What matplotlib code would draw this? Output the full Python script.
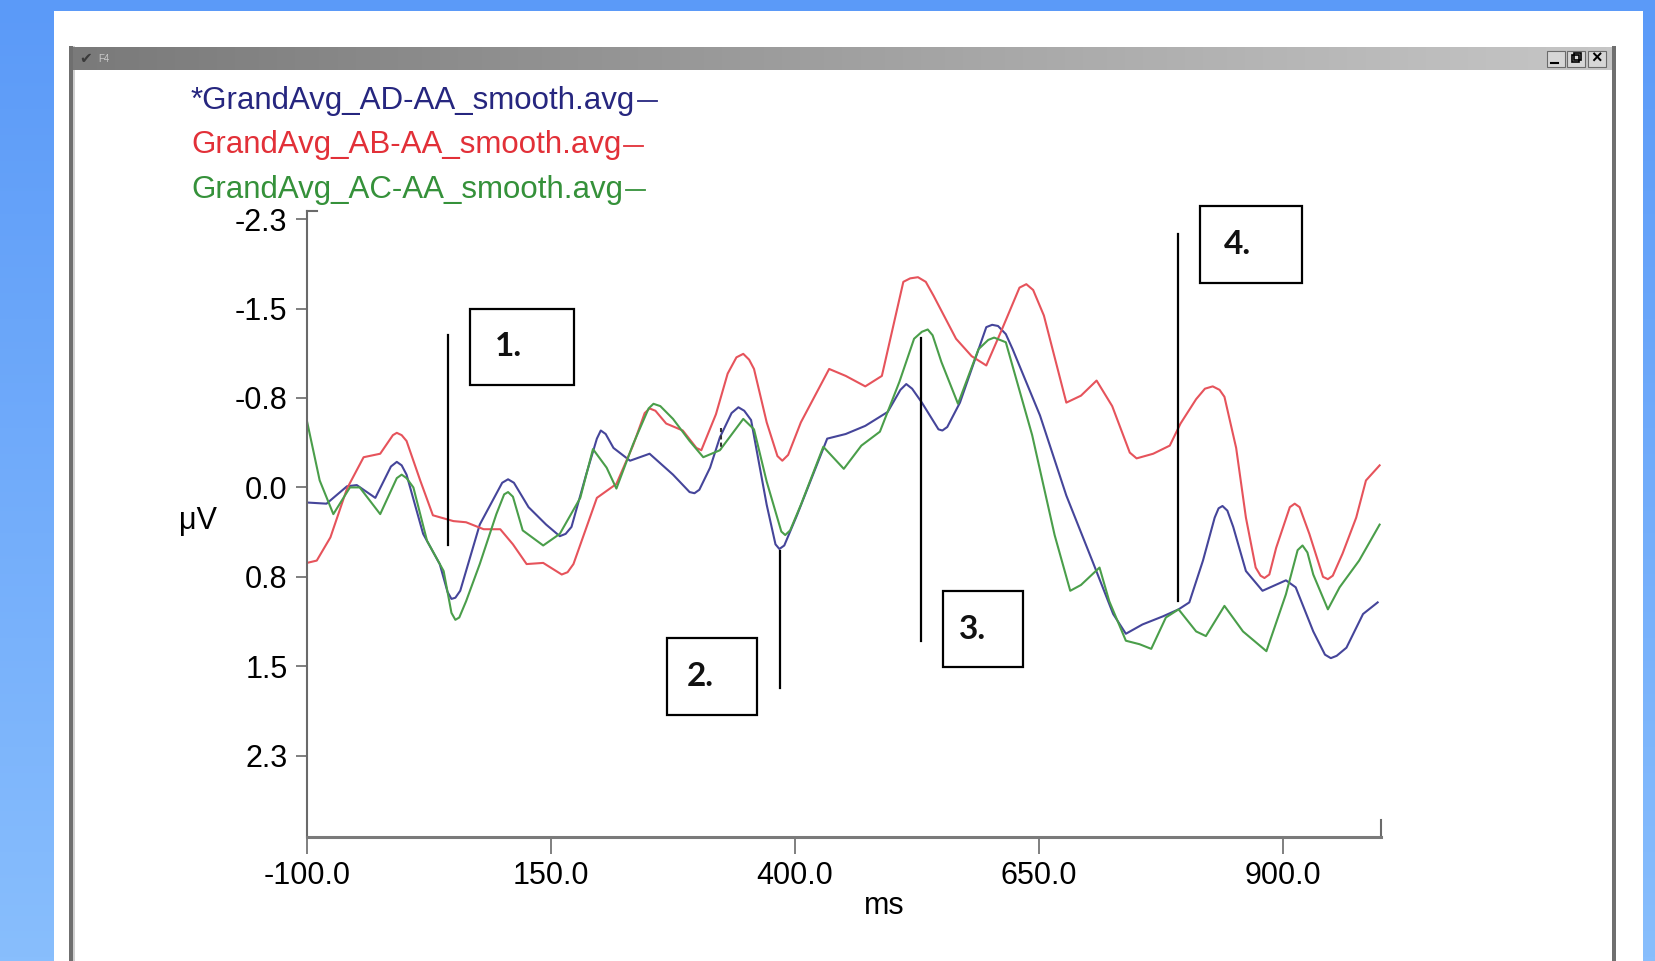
import numpy as np
import matplotlib
matplotlib.use("Agg")
import matplotlib.pyplot as plt
from matplotlib.patches import Rectangle

plt.rcParams['font.family'] = ['Liberation Sans', 'DejaVu Sans']

# --- data (ms, microvolts; negative is drawn upwards) ---
blue_ms = [-100, -80, -59, -49, -30, -14, -8, -3, 2, 19, 36, 44, 48, 52, 57, 77, 100, 106, 112,
           127, 145, 159, 165, 171, 186, 197, 201, 206, 214, 231, 251, 275, 292, 297, 302, 313,
           323, 335, 342, 348, 355, 371, 380, 384, 389, 402, 433, 452, 472, 495, 508, 514, 520,
           530, 547, 551, 556, 569, 596, 602, 608, 616, 623, 651, 678, 705, 726, 739, 756, 777,
           793, 804, 818, 830, 834, 838, 843, 849, 862, 879, 903, 913, 931, 943, 949, 955, 965,
           982, 997]
blue_uv = [0.13, 0.14, -0.01, -0.02, 0.09, -0.18, -0.22, -0.19, -0.11, 0.40, 0.66, 0.90, 0.96,
           0.95, 0.89, 0.32, -0.04, -0.07, -0.04, 0.17, 0.32, 0.42, 0.40, 0.34, -0.11, -0.42,
           -0.49, -0.46, -0.34, -0.23, -0.29, -0.11, 0.04, 0.05, 0.02, -0.17, -0.43, -0.64,
           -0.69, -0.66, -0.58, 0.15, 0.49, 0.53, 0.50, 0.24, -0.42, -0.46, -0.53, -0.65, -0.84,
           -0.89, -0.85, -0.73, -0.50, -0.49, -0.52, -0.73, -1.38, -1.40, -1.39, -1.32, -1.19,
           -0.62, 0.07, 0.64, 1.09, 1.26, 1.18, 1.11, 1.05, 0.99, 0.63, 0.26, 0.18, 0.16, 0.20,
           0.34, 0.72, 0.89, 0.80, 0.86, 1.24, 1.44, 1.47, 1.45, 1.38, 1.09, 0.99]

red_ms = [-100, -90, -76, -59, -42, -25, -12, -8, -3, 2, 16, 29, 50, 63, 81, 98, 111, 125, 142,
          161, 167, 173, 197, 217, 234, 246, 251, 257, 268, 285, 299, 304, 319, 331, 340, 347,
          353, 358, 371, 382, 387, 393, 406, 435, 452, 472, 489, 511, 518, 526, 534, 542, 565,
          581, 596, 612, 630, 637, 644, 655, 678, 693, 709, 725, 743, 750, 767, 784, 795, 811,
          820, 828, 835, 840, 852, 862, 872, 877, 881, 886, 893, 907, 912, 917, 927, 941, 946,
          951, 961, 975, 985, 999]
red_uv = [0.65, 0.63, 0.43, 0.01, -0.26, -0.29, -0.45, -0.47, -0.45, -0.40, -0.06, 0.24, 0.29,
          0.30, 0.36, 0.36, 0.49, 0.66, 0.65, 0.75, 0.73, 0.66, 0.09, -0.03, -0.36, -0.64, -0.68,
          -0.66, -0.55, -0.49, -0.34, -0.32, -0.63, -0.98, -1.12, -1.15, -1.10, -1.02, -0.56,
          -0.27, -0.23, -0.28, -0.56, -1.02, -0.96, -0.87, -0.96, -1.77, -1.80, -1.81, -1.77,
          -1.65, -1.28, -1.13, -1.05, -1.36, -1.72, -1.75, -1.70, -1.48, -0.73, -0.79, -0.92,
          -0.70, -0.30, -0.25, -0.29, -0.36, -0.55, -0.76, -0.85, -0.87, -0.84, -0.78, -0.34,
          0.26, 0.69, 0.76, 0.78, 0.75, 0.52, 0.17, 0.14, 0.17, 0.40, 0.77, 0.79, 0.76, 0.57,
          0.26, -0.06, -0.19]

green_ms = [-100, -87, -73, -56, -46, -25, -8, -3, 2, 9, 23, 40, 48, 52, 56, 63, 77, 94, 102, 106,
            111, 121, 142, 159, 180, 193, 207, 217, 234, 250, 255, 262, 275, 292, 306, 323, 347,
            358, 371, 386, 390, 395, 406, 429, 450, 468, 487, 507, 522, 530, 536, 541, 550, 567,
            588, 598, 604, 616, 643, 666, 682, 693, 712, 722, 739, 753, 765, 780, 793, 811, 821,
            840, 859, 883, 903, 915, 920, 925, 931, 946, 958, 978, 999]
green_uv = [-0.57, -0.06, 0.23, 0.00, 0.00, 0.23, -0.08, -0.11, -0.08, 0.00, 0.46, 0.72, 1.08,
            1.14, 1.12, 0.98, 0.66, 0.23, 0.06, 0.04, 0.08, 0.37, 0.50, 0.40, 0.09, -0.33, -0.17,
            0.01, -0.37, -0.68, -0.72, -0.70, -0.59, -0.40, -0.26, -0.32, -0.59, -0.50, -0.05,
            0.38, 0.41, 0.37, 0.15, -0.35, -0.16, -0.36, -0.48, -0.91, -1.28, -1.34, -1.36, -1.31,
            -1.08, -0.72, -1.19, -1.27, -1.29, -1.25, -0.45, 0.41, 0.89, 0.84, 0.69, 0.98, 1.32,
            1.35, 1.39, 1.12, 1.05, 1.24, 1.28, 1.02, 1.24, 1.41, 0.92, 0.54, 0.50, 0.56, 0.75,
            1.05, 0.86, 0.63, 0.32]

series_names = ["*GrandAvg_AD-AA_smooth.avg", "GrandAvg_AB-AA_smooth.avg",
                "GrandAvg_AC-AA_smooth.avg"]
line_colors = ["#45459a", "#e6535b", "#4a9e4a"]
text_colors = ["#26267f", "#e23038", "#35913a"]

x_ticks = [-100, 150, 400, 650, 900]
y_ticks = [-2.31, -1.54, -0.77, 0.0, 0.77, 1.54, 2.31]

# markers 1-4: (ms, top, bottom) of the black line, and box (ms0, ms1, uv0, uv1)
marker_lines = [(44, -1.31, 0.50), (385, 0.55, 1.73), (529, -1.29, 1.32), (792, -2.18, 0.98)]
marker_boxes = [(67, 174, -1.54, -0.88), (269, 361, 1.30, 1.96),
                (552, 634, 0.89, 1.55), (815, 919, -2.42, -1.76)]
marker_text = ["1.", "2.", "3.", "4."]

W, H = 1655, 961
fig = plt.figure(figsize=(W / 100, H / 100), dpi=100)

# background, window frame and title bar (pixel coordinates)
bg = fig.add_axes([0, 0, 1, 1])
bg.set_xlim(0, W)
bg.set_ylim(H, 0)
bg.axis('off')
top_c = np.array([0x5b, 0x9a, 0xf8]) / 255
bot_c = np.array([0x88, 0xbe, 0xfd]) / 255
g = np.linspace(0, 1, 256)[:, None, None]
bg.imshow(top_c + (bot_c - top_c) * g, extent=[0, W, H, 0], aspect='auto', zorder=0)
bg.add_patch(Rectangle((54, 10.5), 1643 - 54, H, fc='white', ec='none', zorder=1))
bg.add_patch(Rectangle((69, 46), 4, H, fc='#6f6f6f', ec='none', zorder=2))
bg.add_patch(Rectangle((73, 46), 2, H, fc='#d0d0d0', ec='none', zorder=2))
bg.add_patch(Rectangle((1612, 46), 4, H, fc='#6f6f6f', ec='none', zorder=2))
hg = np.linspace(0, 1, 256)[None, :, None]
bar_l = np.array([0x7a, 0x7a, 0x7a]) / 255
bar_r = np.array([0xc6, 0xc6, 0xc6]) / 255
bg.imshow(bar_l + (bar_r - bar_l) * hg, extent=[73, 1612, 70, 47], aspect='auto', zorder=3)
bg.set_xlim(0, W)
bg.set_ylim(H, 0)
bg.text(79, 59, "\u2714", fontsize=11, color='#3a3a3a', va='center', family='DejaVu Sans', zorder=4)
bg.text(98, 59, "F4", fontsize=7, color='#c8c8c8', va='center', zorder=4)
for bx in [1547, 1567, 1588]:
    bg.add_patch(Rectangle((bx, 51), 18, 16, fc='#d6d6d6', ec='#6a6a6a', lw=0.8, zorder=4))
bg.plot([1551, 1558], [63, 63], color='black', lw=1.5, zorder=5)
bg.add_patch(Rectangle((1572, 55), 7, 7, fc='none', ec='black', lw=1.2, zorder=5))
bg.add_patch(Rectangle((1574, 53), 7, 7, fc='none', ec='black', lw=1.2, zorder=5))
bg.text(1597, 59, "\u00d7", fontsize=13, color='black', ha='center', va='center',
        fontweight='bold', zorder=5)

# legend texts with a short line sample after each name
legend_y = [101, 145.5, 190]
for i, name in enumerate(series_names):
    bg.text(191, legend_y[i], name, color=text_colors[i], fontsize=22.5,
            va='center', ha='left', zorder=4)
fig.canvas.draw()
for i, txt in enumerate([c for c in bg.texts if c.get_text() in series_names]):
    bb = txt.get_window_extent()
    xe = bb.x1 + 3
    bg.plot([xe, xe + 19], [legend_y[i], legend_y[i]], color=text_colors[i], lw=1.3, zorder=4)

# main plot
x0, x1, y0, y1 = 307, 1380.6, 211, 837
ax = fig.add_axes([x0 / W, 1 - y1 / H, (x1 - x0) / W, (y1 - y0) / H])
ax.patch.set_alpha(0)
for xs, ys, c in [(blue_ms, blue_uv, line_colors[0]), (red_ms, red_uv, line_colors[1]),
                  (green_ms, green_uv, line_colors[2])]:
    ax.plot(xs, ys, color=c, lw=1.5, solid_joinstyle='round')
ax.set_xlim(-100, 1000)
ax.set_ylim(3.01, -2.38)

for s in ['top', 'right']:
    ax.spines[s].set_visible(False)
ax.spines['left'].set_color('#6a6a6a')
ax.spines['left'].set_linewidth(1.5)
ax.spines['bottom'].set_color('#7a7a7a')
ax.spines['bottom'].set_linewidth(2.2)
ax.set_xticks(x_ticks)
ax.set_xticklabels(["%.1f" % v for v in x_ticks])
ax.set_yticks(y_ticks)
ax.set_yticklabels(["%.1f" % v for v in y_ticks])
ax.tick_params(axis='y', length=8, width=1.2, color='#6a6a6a', pad=6, labelsize=22)
ax.tick_params(axis='x', length=12, width=1.2, color='#6a6a6a', pad=5, labelsize=22)
# hook at top of y axis and small tick at right end of x axis
ax.plot([-100, -90], [-2.38, -2.38], color='#6a6a6a', lw=1.5, clip_on=False)
ax.plot([1000, 1000], [3.01, 2.86], color='#6a6a6a', lw=1.5, clip_on=False)

fig.text(884.5 / W, 1 - 906 / H, "ms", fontsize=22, ha='center', va='center')
fig.text(198 / W, 1 - 521 / H, "\u03bcV", fontsize=22, ha='center', va='center')

# small dashed cursor mark
ax.plot([324, 324], [-0.51, -0.32], color='#333333', lw=1.5, ls=(0, (2, 1.5)))

# numbered markers
for (mx, ya, yb), (bx0, bx1, by0, by1), t in zip(marker_lines, marker_boxes, marker_text):
    ax.plot([mx, mx], [ya, yb], color='black', lw=1.6, clip_on=False)
    ax.add_patch(Rectangle((bx0, by0), bx1 - bx0, by1 - by0, fc='white', ec='black',
                           lw=1.6, clip_on=False))
    ax.text(bx0 + 0.37 * (bx1 - bx0), (by0 + by1) / 2, t, fontsize=24, fontweight='bold',
            family=['Lato', 'DejaVu Sans'], ha='center', va='center', color='#111111')

fig.savefig("out.png", dpi=100)
